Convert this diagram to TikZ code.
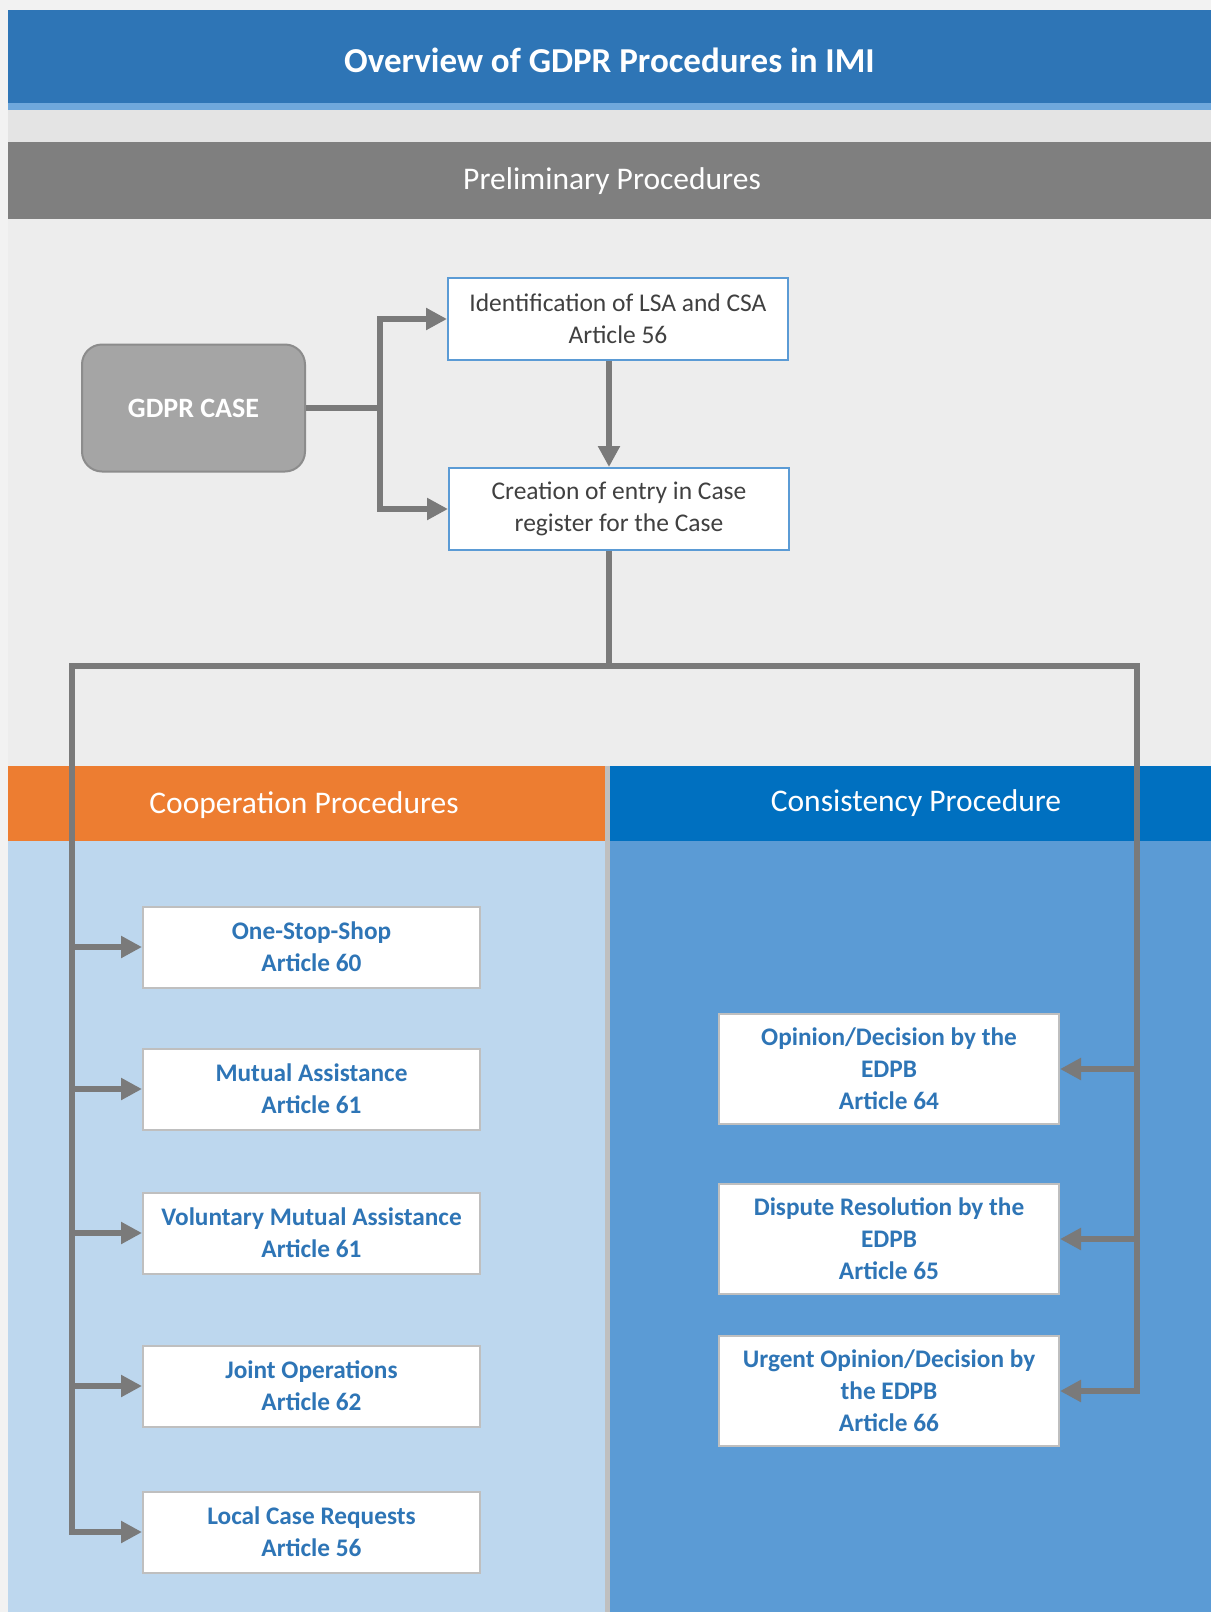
\documentclass[tikz,border=0pt]{standalone}
\usepackage{fontspec}
\setmainfont{Carlito}
\usetikzlibrary{arrows.meta,positioning}
\definecolor{pagegray}{HTML}{F2F2F2}
\definecolor{titleblue}{HTML}{2E75B6}
\definecolor{stripblue}{HTML}{6FA8DC}
\definecolor{bandgray}{HTML}{E4E4E4}
\definecolor{prelgray}{HTML}{7F7F7F}
\definecolor{areagray}{HTML}{EDEDED}
\definecolor{cooporange}{HTML}{ED7D31}
\definecolor{consblue}{HTML}{0070C0}
\definecolor{coopfill}{HTML}{BDD7EE}
\definecolor{consfill}{HTML}{5B9BD5}
\definecolor{textblue}{HTML}{2E75B6}
\definecolor{wiregray}{HTML}{7A7A7A}
\definecolor{boxgray}{HTML}{BFBFBF}
\definecolor{casegray}{HTML}{A5A5A5}
\begin{document}
\begin{tikzpicture}[x=1pt,y=-1pt,
  wire/.style={draw=wiregray,line width=6.5pt},
  flow/.style={wire,-{Triangle[length=21pt,width=21pt]}},
  headtext/.style={text=white,font=\fontsize{31.5}{36}\selectfont},
  prelbox/.style={draw=consfill,line width=2pt,fill=white,text=black!75,
    minimum width=340pt,minimum height=82pt,align=center,
    font=\fontsize{25.5}{32}\selectfont},
  coopbox/.style={draw=boxgray,line width=2pt,fill=white,text=textblue,
    minimum width=337pt,minimum height=81pt,align=center,
    font=\bfseries\fontsize{25.3}{32}\selectfont},
  consbox/.style={coopbox,minimum width=340pt,minimum height=110pt}]
\useasboundingbox (0,0) rectangle (1211,1612);
% bands
\fill[pagegray] (0,0) rectangle (1211,1612);
\fill[titleblue] (8,10) rectangle (1211,103);
\fill[stripblue] (8,103) rectangle (1211,110);
\fill[bandgray] (8,110) rectangle (1211,142);
\fill[prelgray] (8,142) rectangle (1211,219);
\fill[areagray] (8,219) rectangle (1211,766);
\fill[cooporange] (8,766) rectangle (605,841);
\fill[consblue] (610,766) rectangle (1211,841);
\fill[coopfill] (8,841) rectangle (605,1612);
\fill[consfill] (610,841) rectangle (1211,1612);
\fill[black!25] (605,766) rectangle (610,1612);
\node[headtext,font=\bfseries\fontsize{35}{40}\selectfont] (title) at (609.5,60) {Overview of GDPR Procedures in IMI};
\node[headtext] (prel) at (612,181) {Preliminary Procedures};
\node[headtext] (coop) at (304,805) {Cooperation Procedures};
\node[headtext] (cons) at (916,803) {Consistency Procedure};
% preliminary
\node[draw=black!45,line width=2pt,fill=casegray,rounded corners=20pt,
  minimum width=223pt,minimum height=127pt,text=white,
  font=\bfseries\fontsize{28}{32}\selectfont] (gdpr) at (193.5,408) {GDPR CASE};
\node[prelbox] (ident) at (618,319) {Identification of LSA and CSA\\Article 56};
\node[prelbox] (create) at (619,509) {Creation of entry in Case\\register for the Case};
\coordinate (split) at (380,408);
\coordinate (spine) at (609,666);
\coordinate (busL) at (72,666);
\coordinate (busR) at (1137,666);
% cooperation
\node[coopbox] (oss) at (311.5,947) {One-Stop-Shop\\Article 60};
\node[coopbox] (mutual) at (311.5,1089) {Mutual Assistance\\Article 61};
\node[coopbox] (volunt) at (311.5,1233) {Voluntary Mutual Assistance\\Article 61};
\node[coopbox] (joint) at (311.5,1386) {Joint Operations\\Article 62};
\node[coopbox] (local) at (311.5,1532) {Local Case Requests\\Article 56};
% consistency
\node[consbox] (opinion) at (889,1069) {Opinion/Decision by the\\EDPB\\Article 64};
\node[consbox] (dispute) at (889,1239) {Dispute Resolution by the\\EDPB\\Article 65};
\node[consbox] (urgent) at (889,1391) {Urgent Opinion/Decision by\\the EDPB\\Article 66};
% connectors
\draw[wire] (gdpr.east) -- (split);
\draw[flow] (split) |- (ident.west);
\draw[flow] (split) |- (create.west);
\draw[flow] (ident.south -| spine) -- (create.north -| spine);
\draw[wire] (create.south -| spine) -- (spine);
\draw[wire,line cap=rect] (busL) -- (busR);
\foreach \b in {oss,mutual,volunt,joint}
  \draw[flow] (\b.west -| busL) -- (\b.west);
\draw[flow] (busL) |- (local.west);
\foreach \b in {opinion,dispute}
  \draw[flow] (\b.east -| busR) -- (\b.east);
\draw[flow] (busR) |- (urgent.east);
\end{tikzpicture}
\end{document}
